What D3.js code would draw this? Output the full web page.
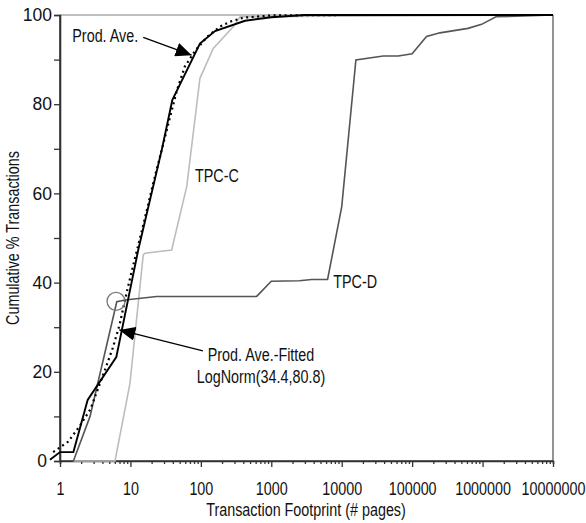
<!DOCTYPE html>
<html><head><meta charset="utf-8">
<script src="https://cdn.jsdelivr.net/npm/d3@7"></script>
<style>
html,body{margin:0;padding:0;background:#fff;}
svg{display:block;background:#fff;}
text{font-family:"Liberation Sans",Arial,sans-serif;fill:#111;}
</style></head><body>
<svg id="c" width="586" height="523"></svg>
<script>
// ---- data ----
const prodX = [0.72, 1, 1.55, 2.47, 6.3, 12.9, 27.8, 39.3, 97, 159, 424, 1000, 3000, 10000000];
const prodY = [0.3, 2, 2, 13.7, 23.3, 47.3, 69.7, 80.9, 93.6, 96.4, 98.7, 99.5, 100, 100];

const fitX = [0.8, 1.3, 1.9, 2.7, 3.7, 4.6, 5.6, 7.0, 9.0, 11, 15, 19, 22.4, 29.4, 35.7, 45.5, 59, 83, 123, 187, 260, 400, 1000, 10000, 10000000];
const fitY = [2.0, 4.3, 7.8, 11.6, 17.4, 21.5, 25.3, 30.5, 38.3, 44, 52.5, 59.3, 64, 71.2, 76.5, 83, 88.4, 92, 95.1, 97.4, 98.5, 99.4, 99.9, 100, 100];

const tpccX = [1.55, 6.04, 9.85, 15.2, 16.1, 38.5, 63, 97, 150, 290, 360, 10000000];
const tpccY = [0, 0, 17.4, 46.2, 46.6, 47.3, 61.5, 85.8, 92.5, 97.4, 99.6, 100];

const tpcdX = [1.55, 2.67, 6.4, 8.4, 23.6, 620, 1000, 2500, 3750, 6300, 10000, 15900, 38900, 63500, 100000, 160000, 248000, 620000, 970000, 1550000, 10000000];
const tpcdY = [0, 10, 35.7, 36.1, 36.9, 36.9, 40.3, 40.4, 40.7, 40.7, 57, 89.9, 90.8, 90.8, 91.3, 95.2, 96.0, 97.0, 97.9, 99.6, 100];

const xTickVals = [1, 10, 100, 1000, 10000, 100000, 1000000, 10000000];
const xTickLabels = ["1", "10", "100", "1000", "10000", "100000", "1000000", "10000000"];
const yTickVals = [0, 20, 40, 60, 80, 100];
const yTickLabels = ["0", "20", "40", "60", "80", "100"];
const yMinorVals = [10, 30, 50, 70, 90];

const xTitle = "Transaction Footprint (# pages)";
const yTitle = "Cumulative % Transactions";

// ---- layout ----
const svg = d3.select("#c");
const x = d3.scaleLog().domain([1, 1e7]).range([60, 553]);
const y = d3.scaleLinear().domain([0, 100]).range([461, 15]);
const FS = 17.5;
const NX = 0.82; // horizontal condensing (narrow face look)

function ntext(px, py, str, anchor, extra) {
  return svg.append("text")
    .attr("transform", `translate(${px},${py}) ${extra || ""} scale(${NX},1)`)
    .attr("text-anchor", anchor || "start")
    .attr("font-size", FS).text(str);
}

// frame (top & right)
svg.append("line").attr("x1", x(1)).attr("x2", x(1e7)).attr("y1", y(100)).attr("y2", y(100))
  .attr("stroke", "#aaa").attr("stroke-width", 1.5);
svg.append("line").attr("x1", x(1e7)).attr("x2", x(1e7)).attr("y1", y(100)).attr("y2", y(0))
  .attr("stroke", "#888").attr("stroke-width", 1.8);

// axes
const gxm = svg.append("g").attr("transform", `translate(0,${y(0)})`)
  .call(d3.axisBottom(x).tickValues(x.ticks().filter(v => !xTickVals.includes(v))).tickSize(3).tickFormat(""));
const gx = svg.append("g").attr("transform", `translate(0,${y(0)})`)
  .call(d3.axisBottom(x).tickValues(xTickVals).tickSize(6).tickPadding(15.5)
    .tickFormat((d, i) => xTickLabels[i]));
const gym = svg.append("g").attr("transform", `translate(${x(1)},0)`)
  .call(d3.axisLeft(y).tickValues(yMinorVals).tickSize(6).tickFormat(""));
const gy = svg.append("g").attr("transform", `translate(${x(1)},0)`)
  .call(d3.axisLeft(y).tickValues(yTickVals).tickSize(6).tickPadding(2)
    .tickFormat((d, i) => yTickLabels[i]));
[gxm, gx, gym, gy].forEach(g => {
  g.select(".domain").attr("stroke", "#333").attr("stroke-width", 1.6);
  g.selectAll(".tick line").attr("stroke", "#333").attr("stroke-width", 1.3);
  g.selectAll("text").attr("font-size", FS).attr("fill", "#111")
    .style("font-family", '"Liberation Sans",Arial,sans-serif');
});
gx.selectAll("text").attr("transform", `scale(${NX},1)`);
gx.select(".domain").attr("d", `M${x(1)},0H${x(1e7)}`);
gy.select(".domain").attr("d", `M0,${y(0)}V${y(100)}`);
gy.selectAll(".tick").filter(d => d === 0).select("text").attr("x", -13);

// titles
ntext(306, 516, xTitle, "middle");
ntext(19, 238, yTitle, "middle", "rotate(-90)");

// series
const line = d3.line().x(d => x(d[0])).y(d => y(d[1]));
const zip = (a, b) => a.map((v, i) => [v, b[i]]);
svg.append("path").datum(zip(tpccX, tpccY)).attr("d", line)
  .attr("fill", "none").attr("stroke", "#bdbdbd").attr("stroke-width", 1.6);
svg.append("path").datum(zip(tpcdX, tpcdY)).attr("d", line)
  .attr("fill", "none").attr("stroke", "#555").attr("stroke-width", 1.6);
svg.append("path").datum(zip(prodX, prodY)).attr("d", line)
  .attr("fill", "none").attr("stroke", "#000").attr("stroke-width", 1.9);
svg.append("path").datum(zip(fitX, fitY)).attr("d", line)
  .attr("fill", "none").attr("stroke", "#000").attr("stroke-width", 2.2)
  .attr("stroke-dasharray", "2,3.5");

// annotations
const defs = svg.append("defs");
defs.append("marker").attr("id", "ah").attr("viewBox", "0 0 16 14").attr("refX", 16).attr("refY", 7)
  .attr("markerWidth", 16).attr("markerHeight", 14).attr("markerUnits", "userSpaceOnUse")
  .attr("orient", "auto")
  .append("path").attr("d", "M0,0L16,7L0,14Z").attr("fill", "#000");

// Prod. Ave. label + arrow
const a1s = [15.2, 95.0], a1e = [74, 91.0];
svg.append("line").attr("x1", x(a1s[0])).attr("y1", y(a1s[1])).attr("x2", x(a1e[0])).attr("y2", y(a1e[1]))
  .attr("stroke", "#000").attr("stroke-width", 1.3).attr("marker-end", "url(#ah)");
ntext(x(a1s[0]) - 5, y(a1s[1]) + 5, "Prod. Ave.", "end");

// Fitted label + arrow
const a2s = [107, 24.7], a2e = [6.95, 29.4];
svg.append("line").attr("x1", x(a2s[0])).attr("y1", y(a2s[1])).attr("x2", x(a2e[0])).attr("y2", y(a2e[1]))
  .attr("stroke", "#000").attr("stroke-width", 1.3).attr("marker-end", "url(#ah)");
ntext(261, 361, "Prod. Ave.-Fitted", "middle");
ntext(261, 382.5, "LogNorm(34.4,80.8)", "middle");

// circle marking TPC-D knee
const circ = [6.24, 35.8];
svg.append("circle").attr("cx", x(circ[0])).attr("cy", y(circ[1])).attr("r", 9)
  .attr("fill", "none").attr("stroke", "#777").attr("stroke-width", 1.3);

// series labels
ntext(x(82.6), y(62.6), "TPC-C", "start");
ntext(x(7590), y(38.7), "TPC-D", "start");
</script>
</body></html>
